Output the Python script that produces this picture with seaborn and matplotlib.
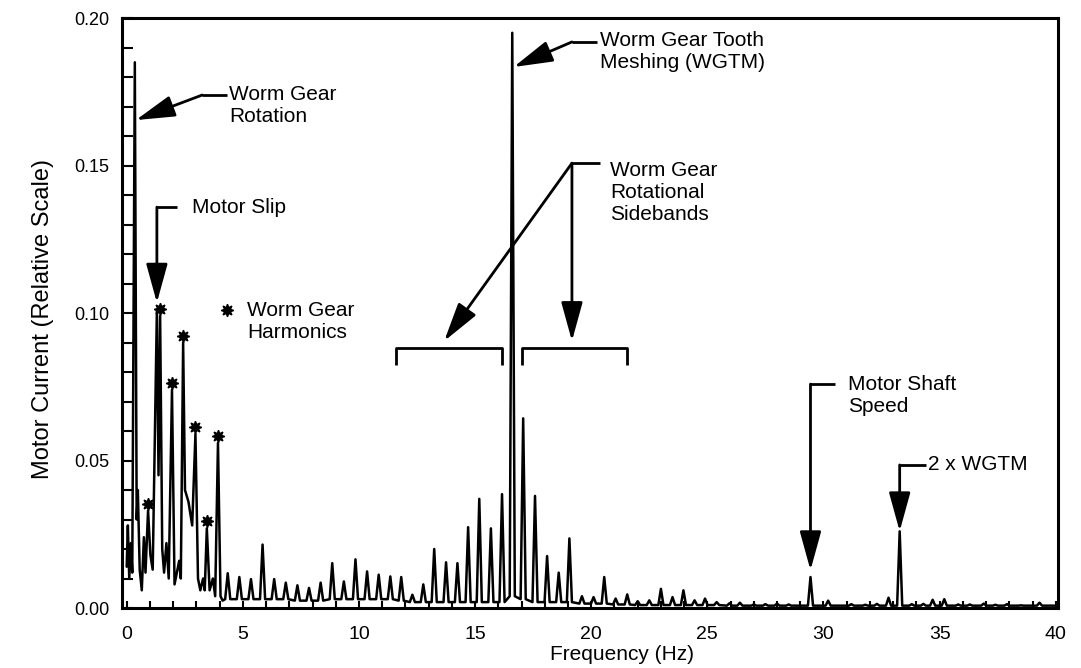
import numpy as np
import matplotlib
matplotlib.use('Agg')
import matplotlib.pyplot as plt
import matplotlib.transforms as mtransforms
import seaborn as sns

# Named peaks (Hz, relative amplitude)
rot_f, rot_a = 0.35, 0.185        # worm gear rotation
slip_f, slip_a = 1.30, 0.101      # motor slip
wgtm_f, wgtm_a = 16.6, 0.195      # worm gear tooth meshing
shaft_f, shaft_a = 29.44, 0.0105  # motor shaft speed
wgtm2_f, wgtm2_a = 33.28, 0.026   # 2 x WGTM

# Worm gear harmonics (starred peaks)
harm_freq = [0.92, 1.44, 1.95, 2.43, 2.96, 3.45, 3.93]
harm_amp = [0.033, 0.099, 0.074, 0.090, 0.059, 0.027, 0.056]

# Low frequency part of the trace, vertex by vertex
low_freq = [0.00, 0.05, 0.11, 0.18, 0.24, rot_f, 0.43, 0.48, 0.56, 0.65,
            0.74, 0.81, 0.92, 1.02, 1.12, slip_f, 1.37, 1.44, 1.53, 1.61,
            1.71, 1.81, 1.95, 2.06, 2.16, 2.26, 2.33, 2.43, 2.51, 2.66,
            2.82, 2.96, 3.07, 3.17, 3.29, 3.36, 3.45, 3.57, 3.71, 3.81,
            3.93, 4.04, 4.13]
low_amp = [0.014, 0.028, 0.010, 0.022, 0.012, rot_a, 0.030, 0.040, 0.013, 0.006,
           0.024, 0.012, 0.033, 0.018, 0.013, slip_a, 0.045, 0.099, 0.020, 0.012,
           0.022, 0.010, 0.074, 0.008, 0.012, 0.016, 0.010, 0.090, 0.040, 0.036,
           0.028, 0.059, 0.010, 0.006, 0.010, 0.006, 0.027, 0.006, 0.010, 0.004,
           0.056, 0.004, 0.0025]

# Spikes above 4 Hz: centre, height, level at the foot of the spike
peak_freq = [4.35, 4.85, 5.35, 5.85, 6.35, 6.85, 7.35, 7.85, 8.35, 8.85,
             9.35, 9.85, 10.35, 10.85, 11.35, 11.82, 12.3, 12.77, 13.24, 13.75,
             14.24, 14.70, 15.18, 15.68, 16.16, wgtm_f, 17.07, 17.58, 18.10, 18.60,
             19.06, 19.60, 20.10, 20.56, 21.05, 21.55, 22.00, 22.50, 23.00, 23.50,
             23.97, 24.45, 24.90, 25.40, 25.95, 26.40, 27.0, 27.5, 28.0, 28.5,
             shaft_f, 30.2, 31.2, 31.8, 32.3, 32.8, wgtm2_f, 33.8, 34.3, 34.7,
             35.2, 35.8, 36.3, 36.9, 37.4, 37.9, 38.5, 39.3]
peak_amp = [0.0118, 0.0105, 0.0098, 0.0215, 0.0098, 0.0086, 0.0077, 0.0068, 0.0086, 0.0152,
            0.0090, 0.0165, 0.0124, 0.0113, 0.0107, 0.0105, 0.0045, 0.0080, 0.0200, 0.0155,
            0.0152, 0.0274, 0.0370, 0.0270, 0.0386, wgtm_a, 0.0643, 0.0380, 0.0176, 0.0120,
            0.0236, 0.0040, 0.0037, 0.0105, 0.0032, 0.0046, 0.0023, 0.0026, 0.0065, 0.0037,
            0.0060, 0.0026, 0.0032, 0.0020, 0.0016, 0.0018, 0.0012, 0.0013, 0.0015, 0.0012,
            shaft_a, 0.0025, 0.0013, 0.0011, 0.0014, 0.0035, wgtm2_a, 0.0013, 0.0014, 0.0028,
            0.0030, 0.0012, 0.0012, 0.0015, 0.0011, 0.0013, 0.0009, 0.0018]
peak_floor = [0.003] * 6 + [0.0025] * 3 + [0.003] * 6 + [0.0025] + [0.002] * 9 \
             + [0.004, 0.003] + [0.002] * 4 + [0.0015] * 3 + [0.0012] * 2 \
             + [0.001] * 8 + [0.0008] * 25

# build the trace: low part as read, then the spikes
hw = 0.11  # half width of a spike foot in Hz
freq = list(low_freq)
amp = list(low_amp)
for f, a, b in zip(peak_freq, peak_amp, peak_floor):
    freq += [f - hw, f, f + hw]
    amp += [b, a, b]
freq.append(40.1)
amp.append(peak_floor[-1])

sns.set_theme(style='white')
plt.rcParams['font.family'] = ['Liberation Sans', 'DejaVu Sans']

fig = plt.figure(figsize=(10.81, 6.68), dpi=100)
ax = fig.add_axes([0.1129, 0.0898, 0.8659, 0.8832])

sns.lineplot(x=freq, y=amp, ax=ax, color='black', lw=1.8, sort=False, estimator=None)

# stars sitting just above the harmonic peaks
star_shift = mtransforms.offset_copy(ax.transData, fig=fig, x=0, y=5, units='points')
ax.plot(harm_freq, harm_amp, ls='none', marker=(8, 1, 0), ms=9, color='black',
        transform=star_shift)

ax.set_xlim(-0.2, 40.1)
ax.set_ylim(0, 0.2)
ax.set_xticks(range(0, 41, 5))
ax.set_xticks(range(0, 41), minor=True)
ax.set_yticks(np.arange(0, 0.201, 0.05))
ax.set_yticks(np.arange(0, 0.201, 0.01), minor=True)
ax.yaxis.set_major_formatter('{x:.2f}')
ax.tick_params(which='both', direction='in', width=1.5, colors='black',
               left=True, bottom=True, top=False, right=False)
ax.tick_params(axis='y', which='both', length=8, pad=9, labelsize=13)
ax.tick_params(axis='x', which='both', length=5, pad=13, labelsize=14)
for sp in ax.spines.values():
    sp.set_linewidth(2.2)
    sp.set_color('black')

ax.set_xlabel('Frequency (Hz)', fontsize=15, color='black')
ax.set_ylabel('Motor Current (Relative Scale)', fontsize=17, color='black')
ax.xaxis.set_label_coords(0.534, -0.062)
ax.yaxis.set_label_coords(-0.073, 0.49)

# annotation helpers
def leader(xs, ys):
    ax.plot(xs, ys, color='black', lw=2, solid_capstyle='butt', clip_on=False)

def arrow(x0, y0, x1, y1):
    ax.annotate('', xy=(x1, y1), xytext=(x0, y0),
                arrowprops=dict(arrowstyle='-|>,head_length=1.2,head_width=0.33',
                                mutation_scale=20, lw=2, color='black',
                                shrinkA=0, shrinkB=0))

def label(x, y, s):
    ax.text(x, y, s, fontsize=15, ha='left', va='center', linespacing=1.2, color='black')

# Worm Gear Rotation
label(4.41, 0.1705, 'Worm Gear\nRotation')
leader([4.32, 3.25], [0.1739, 0.1739])
arrow(3.25, 0.1739, rot_f + 0.04, 0.1654)

# Motor Slip
label(2.82, 0.1359, 'Motor Slip')
leader([2.17, slip_f], [0.1359, 0.1359])
arrow(slip_f, 0.1359, slip_f, slip_a + 0.0025)

# harmonics key
ax.plot([4.32], [0.101], ls='none', marker=(8, 1, 0), ms=9, color='black')
label(5.18, 0.097, 'Worm Gear\nHarmonics')

# Worm Gear Tooth Meshing
label(20.38, 0.1885, 'Worm Gear Tooth\nMeshing (WGTM)')
leader([20.25, 19.17], [0.1919, 0.1919])
arrow(19.17, 0.1919, wgtm_f + 0.06, 0.1834)

# Rotational sidebands with brackets
label(20.8, 0.141, 'Worm Gear\nRotational\nSidebands')
leader([20.38, 19.17], [0.1508, 0.1508])
arrow(19.17, 0.1508, 19.17, 0.0905)
arrow(19.17, 0.1508, 13.67, 0.0905)
leader([11.6, 11.6, 16.16, 16.16], [0.0825, 0.0881, 0.0881, 0.0825])
leader([17.02, 17.02, 21.54, 21.54], [0.0825, 0.0881, 0.0881, 0.0825])

# Motor Shaft Speed
label(31.05, 0.072, 'Motor Shaft\nSpeed')
leader([30.5, shaft_f], [0.0759, 0.0759])
arrow(shaft_f, 0.0759, shaft_f, shaft_a + 0.0023)

# 2 x WGTM
label(34.5, 0.0485, '2 x WGTM')
leader([34.41, wgtm2_f], [0.0485, 0.0485])
arrow(wgtm2_f, 0.0485, wgtm2_f, wgtm2_a)

fig.savefig('out.png', dpi=100)
